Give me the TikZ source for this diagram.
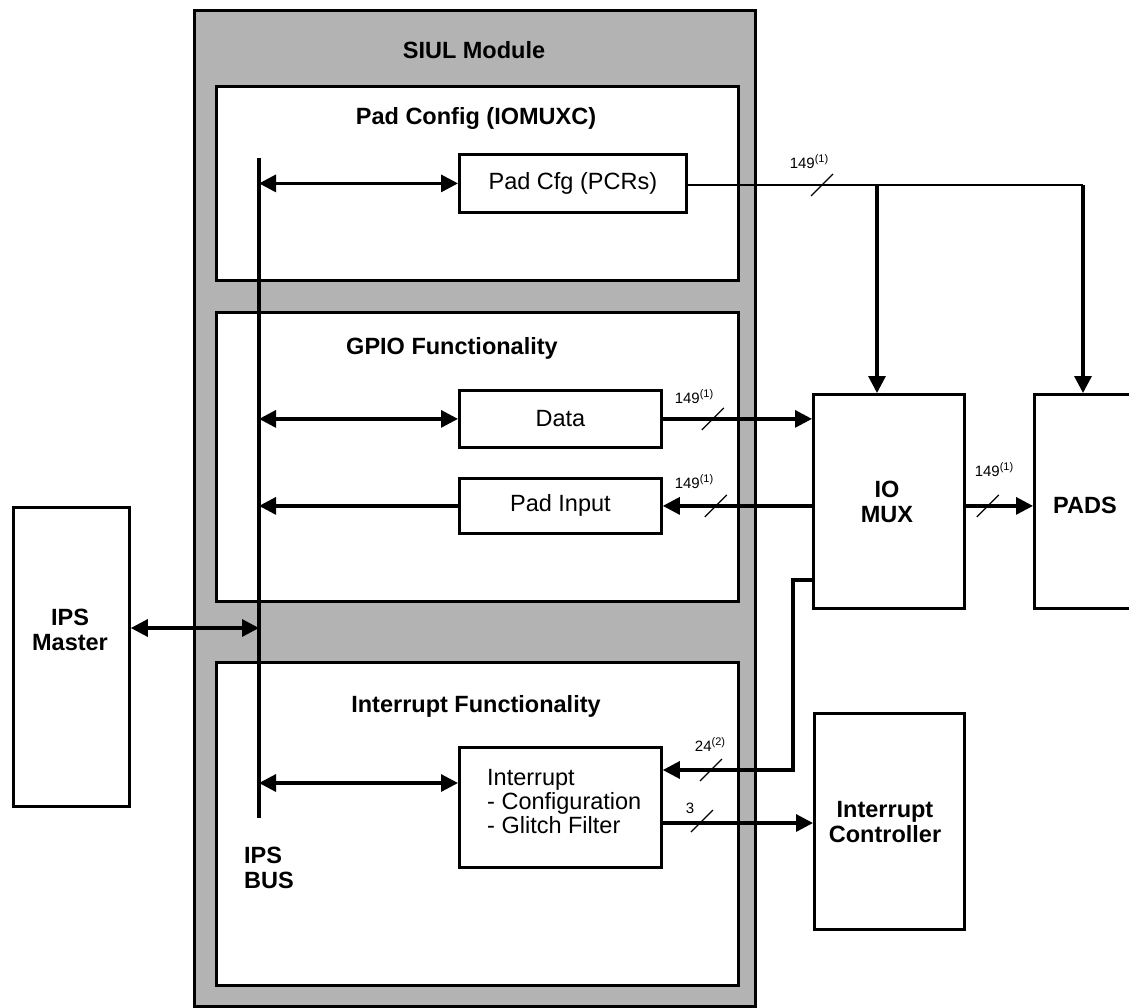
\documentclass[tikz,border=0pt]{standalone}
\usepackage{fontspec}
\setmainfont{Liberation Sans}
\usetikzlibrary{arrows.meta,calc}
\definecolor{siulgray}{RGB}{179,179,179}
\newcommand{\supnote}[1]{\raisebox{6pt}{\fontsize{11}{12}\selectfont(#1)}}
\begin{document}
\begin{tikzpicture}[x=1pt,y=-1pt,
  box/.style={draw, line width=2.8pt, fill=white, anchor=north west, inner sep=0pt},
  ttl/.style={font=\fontsize{23.5}{25}\selectfont\bfseries, align=center},
  txt/.style={font=\fontsize{23.5}{24}\selectfont},
  lbl/.style={font=\fontsize{15}{16}\selectfont, inner sep=0pt},
  conn/.style={line width=3.2pt},
  tip/.style={-{Triangle[length=17pt,width=17pt]}},
  arr/.style={conn, tip},
  barr/.style={conn, {Triangle[length=17pt,width=17pt]}-{Triangle[length=17pt,width=17pt]}},
  slash/.style={line width=1.2pt}]
\useasboundingbox (0,0) rectangle (1129,1007);
\clip (0,0) rectangle (1129,1007);

% SIUL module
\node[box, fill=siulgray, minimum width=561pt, minimum height=996pt] (siul) at (193,9) {};
\node[ttl] (siult) at (474,50) {SIUL Module};

\node[box, minimum width=522pt, minimum height=194pt] (padbox) at (215,85) {};
\node[ttl] (padt) at (476,118) {Pad Config (IOMUXC)};
\node[box, minimum width=522pt, minimum height=289pt] (gpiobox) at (215,311) {};
\node[ttl] (gpiot) at (452,348) {GPIO Functionality};
\node[box, minimum width=522pt, minimum height=323pt] (intbox) at (215,661) {};
\node[ttl] (intt) at (476,706) {Interrupt Functionality};

\node[box, minimum width=227pt, minimum height=58pt] (pcr) at (458,153) {};
\node[txt] at (pcr.center) {Pad Cfg (PCRs)};
\node[box, minimum width=202pt, minimum height=57pt] (data) at (458,389) {};
\node[txt] at (data.center) {Data};
\node[box, minimum width=202pt, minimum height=55pt] (padin) at (458,477) {};
\node[txt] at (padin.center) {Pad Input};
\node[box, minimum width=202pt, minimum height=120pt] (irq) at (458,746) {};
\node[txt, anchor=west, align=left, inner sep=0pt] (irqt) at (487,802) {Interrupt\\- Configuration\\- Glitch Filter};

% external blocks
\node[box, minimum width=116pt, minimum height=299pt] (ipsm) at (12,506) {};
\node[ttl] (ipsmt) at (70,630) {IPS\\Master};
\node[box, minimum width=151pt, minimum height=214pt] (iomux) at (812,393) {};
\node[ttl] (iomuxt) at (887,502) {IO\\MUX};
\node[box, minimum width=130pt, minimum height=214pt] (pads) at (1033,393) {};
\node[ttl] (padst) at (1085,505) {PADS};
\node[box, minimum width=150pt, minimum height=216pt] (ictrl) at (813,712) {};
\node[ttl] (ictrlt) at (885,822) {Interrupt\\Controller};

% IPS bus
\coordinate (bustop) at (259,158);
\coordinate (busbot) at (259,818);
\draw[conn] (bustop) -- (busbot);
\node[ttl, anchor=west, align=left, inner sep=0pt] (bust) at (244,868) {IPS\\BUS};

\draw[barr] (pcr.west -| bustop) -- (pcr.west);
\draw[barr] (data.west -| bustop) -- (data.west);
\draw[arr] (padin.west) -- (padin.west -| bustop);
\coordinate (irqin) at (458,783);
\draw[barr] (irqin -| bustop) -- (irqin);
\coordinate (ipsbus) at (259,628);
\draw[barr] (ipsm.east |- ipsbus) -- (ipsbus);

% pad config lines
\coordinate (j1) at (877,185);
\coordinate (j2) at (1083,185);
\draw[line width=2.6pt] (pcr.east |- j1) -- (j2);
\draw[arr] (j1) -- (j1 |- iomux.north);
\draw[arr] (j2) -- (j2 |- pads.north);
\draw[slash] ($(822,185)+(-11,11)$) -- ++(22,-22);
\node[lbl] (l1) at (809,162) {149\supnote{1}};

% data / pad input
\draw[arr] (data.east) -- (data.east -| iomux.west);
\draw[slash] ($(data.east)+(50,0)+(-11,11)$) -- ++(22,-22);
\node[lbl] (l2) at (694,397) {149\supnote{1}};
\draw[arr] (padin.east -| iomux.west) -- (padin.east);
\draw[slash] ($(padin.east)+(53,0)+(-11,11)$) -- ++(22,-22);
\node[lbl] (l3) at (694,482) {149\supnote{1}};
\draw[arr] (padin.east -| iomux.east) -- (padin.east -| pads.west);
\draw[slash] ($(padin.east -| iomux.east)+(22,0)+(-11,11)$) -- ++(22,-22);
\node[lbl] (l4) at (994,470) {149\supnote{1}};

% interrupt lines
\coordinate (mx) at (812,580);
\coordinate (mk) at (793,770);
\draw[arr] (mx) -- (mx -| mk) -- (mk) -- (mk -| irq.east);
\draw[slash] ($(711,770)+(-11,11)$) -- ++(22,-22);
\node[lbl] (l5) at (710,745) {24\supnote{2}};
\coordinate (ir3) at (660,823);
\draw[arr] (ir3) -- (ir3 -| ictrl.west);
\draw[slash] ($(702,821)+(-11,11)$) -- ++(22,-22);
\node[lbl] (l6) at (690,808) {3};
\end{tikzpicture}
\end{document}
